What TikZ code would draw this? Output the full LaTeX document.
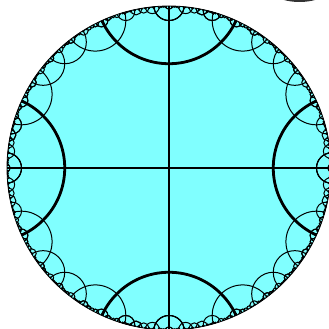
\documentclass[tikz,border=0pt]{standalone}
\definecolor{diskcyan}{RGB}{128,255,255}
\tikzset{
  rim/.style={line width=0.8pt},
  bigline/.style={line width=2.8pt},
  smallline/.style={line width=1pt},
}
% disk radius and size limits (degrees of boundary arc)
\def\Rd{162}
\def\drawmin{0.5}
\def\growmin{1}
\def\maxlevel{4}

% the 20 sides of the central right-angled polygon, and the two axes
\newcommand\setupsides{%
  \foreach \jj/\lo/\hi in {0/-24.4695/24.4695, 1/15.891/37.241, 2/32.047/47.232,
      3/42.768/57.953, 4/52.759/74.109, 5/65.5305/114.4695, 6/105.891/127.241,
      7/122.047/137.232, 8/132.768/147.953, 9/142.759/164.109,
      10/155.5305/204.4695, 11/195.891/217.241, 12/212.047/227.232,
      13/222.768/237.953, 14/232.759/254.109, 15/245.5305/294.4695,
      16/285.891/307.241, 17/302.047/317.232, 18/312.768/327.953,
      19/322.759/344.109, 20/0/180, 21/90/270}{%
    \pgfmathsetmacro\tmp{sin(\lo/2)}\expandafter\xdef\csname sA\jj\endcsname{\tmp}%
    \pgfmathsetmacro\tmp{cos(\lo/2)}\expandafter\xdef\csname cA\jj\endcsname{\tmp}%
    \pgfmathsetmacro\tmp{sin(\hi/2)}\expandafter\xdef\csname sB\jj\endcsname{\tmp}%
    \pgfmathsetmacro\tmp{cos(\hi/2)}\expandafter\xdef\csname cB\jj\endcsname{\tmp}%
    \pgfmathsetmacro\midang{(\lo+\hi)/2}%
    \pgfmathsetmacro\halfang{(\hi-\lo)/2}%
    \pgfmathsetmacro\tmp{sin(\midang)}\expandafter\xdef\csname Ma\jj\endcsname{\tmp}%
    \pgfmathsetmacro\tmp{cos(\midang)-cos(\halfang)}\expandafter\xdef\csname Mb\jj\endcsname{\tmp}%
    \pgfmathsetmacro\tmp{cos(\midang)+cos(\halfang)}\expandafter\xdef\csname Mc\jj\endcsname{\tmp}%
    \pgfmathsetmacro\tmp{-sin(\midang)}\expandafter\xdef\csname Md\jj\endcsname{\tmp}%
  }%
}

% image of side #1 under the current map: end angles, width \gw, middle \gm
\newcommand\imageline[1]{%
  \edef\vsa{\csname sA#1\endcsname}\edef\vca{\csname cA#1\endcsname}%
  \edef\vsb{\csname sB#1\endcsname}\edef\vcb{\csname cB#1\endcsname}%
  \pgfmathsetmacro\tha{2*atan2(\mpa*\vsa+\mpb*\vca,\mpc*\vsa+\mpd*\vca)}%
  \pgfmathsetmacro\thb{2*atan2(\mpa*\vsb+\mpb*\vcb,\mpc*\vsb+\mpd*\vcb)}%
  \pgfmathsetmacro\dd{Mod(\thb-\tha,360)}%
  \ifdim\dd pt>180pt
    \pgfmathsetmacro\gw{360-\dd}\pgfmathsetmacro\gm{\thb+\gw/2}%
  \else
    \let\gw\dd\pgfmathsetmacro\gm{\tha+\dd/2}%
  \fi
}

\newcommand\drawgeo{%
  \pgfmathsetmacro\gh{\gw/2}%
  \pgfmathsetmacro\gc{\Rd/cos(\gh)}%
  \pgfmathsetmacro\grad{\Rd*tan(\gh)}%
  \draw[smallline] (\gm:\gc) circle[radius=\grad];%
}

% one copy of the polygon: map (#1 #2; #3 #4), last mirror #5, level #6
\newcommand\drawcopy[6]{%
  \edef\mpa{#1}\edef\mpb{#2}\edef\mpc{#3}\edef\mpd{#4}%
  \edef\lastside{#5}\edef\curlevel{#6}%
  \foreach \jj in {0,...,21}{%
    \pgfmathtruncatemacro\skipit{or(and(greater(\lastside,-1),and(less(\jj,20),
      or(equal(\jj,\lastside),or(equal(\jj,mod(\lastside+1,20)),equal(\jj,mod(\lastside+19,20)))))),
      and(less(\lastside,0),or(equal(mod(\jj,5),0),equal(\jj,21))))}%
    \ifnum\skipit=0
      \imageline{\jj}%
      \ifdim\gw pt<170pt \ifdim\gw pt>\drawmin pt \drawgeo \fi\fi
    \fi
  }%
  \ifnum\curlevel<\maxlevel
  \foreach \kk in {0,...,19}{%
    \pgfmathtruncatemacro\okit{and(notequal(\kk,\lastside),not(and(or(equal(\kk,mod(\lastside+1,20)),
      equal(\kk,mod(\lastside+19,20))),less(\kk,\lastside))))}%
    \ifnum\okit=1
      \imageline{\kk}%
      \ifdim\gw pt>\growmin pt
        \edef\ra{\csname Ma\kk\endcsname}\edef\rb{\csname Mb\kk\endcsname}%
        \edef\rc{\csname Mc\kk\endcsname}\edef\rd{\csname Md\kk\endcsname}%
        \pgfmathsetmacro\na{\mpa*\ra+\mpb*\rc}%
        \pgfmathsetmacro\nb{\mpa*\rb+\mpb*\rd}%
        \pgfmathsetmacro\nc{\mpc*\ra+\mpd*\rc}%
        \pgfmathsetmacro\nd{\mpc*\rb+\mpd*\rd}%
        \pgfmathsetmacro\nm{max(abs(\na),abs(\nb),abs(\nc),abs(\nd))}%
        \pgfmathsetmacro\na{\na/\nm}\pgfmathsetmacro\nb{\nb/\nm}%
        \pgfmathsetmacro\nc{\nc/\nm}\pgfmathsetmacro\nd{\nd/\nm}%
        \pgfmathtruncatemacro\nlev{\curlevel+1}%
        \edef\next{\noexpand\drawcopy{\na}{\nb}{\nc}{\nd}{\kk}{\nlev}}\next
      \fi
    \fi
  }%
  \fi
}

\begin{document}
\begin{tikzpicture}[x=1pt,y=1pt]
  \useasboundingbox (0,0) rectangle (329,329);
  % edge of the next picture, top right
  \fill[black!80] (299.5,388) circle (61);

  \begin{scope}[shift={(169,161)}]
    \fill[diskcyan] (0,0) circle (\Rd);
    \begin{scope}
      \clip (0,0) circle (\Rd);
      \setupsides
      \drawcopy{1}{0}{0}{1}{-1}{0}
      % main mirrors
      \foreach \q in {0,90,180,270}
        \draw[bigline] (\q:{\Rd/cos(24.4695)}) circle[radius={\Rd*tan(24.4695)}];
      \draw[bigline] (-\Rd,0) -- (\Rd,0);
      \draw[bigline] (0,-\Rd) -- (0,\Rd);
    \end{scope}
    \draw[rim] (0,0) circle (\Rd);
  \end{scope}
\end{tikzpicture}
\end{document}
